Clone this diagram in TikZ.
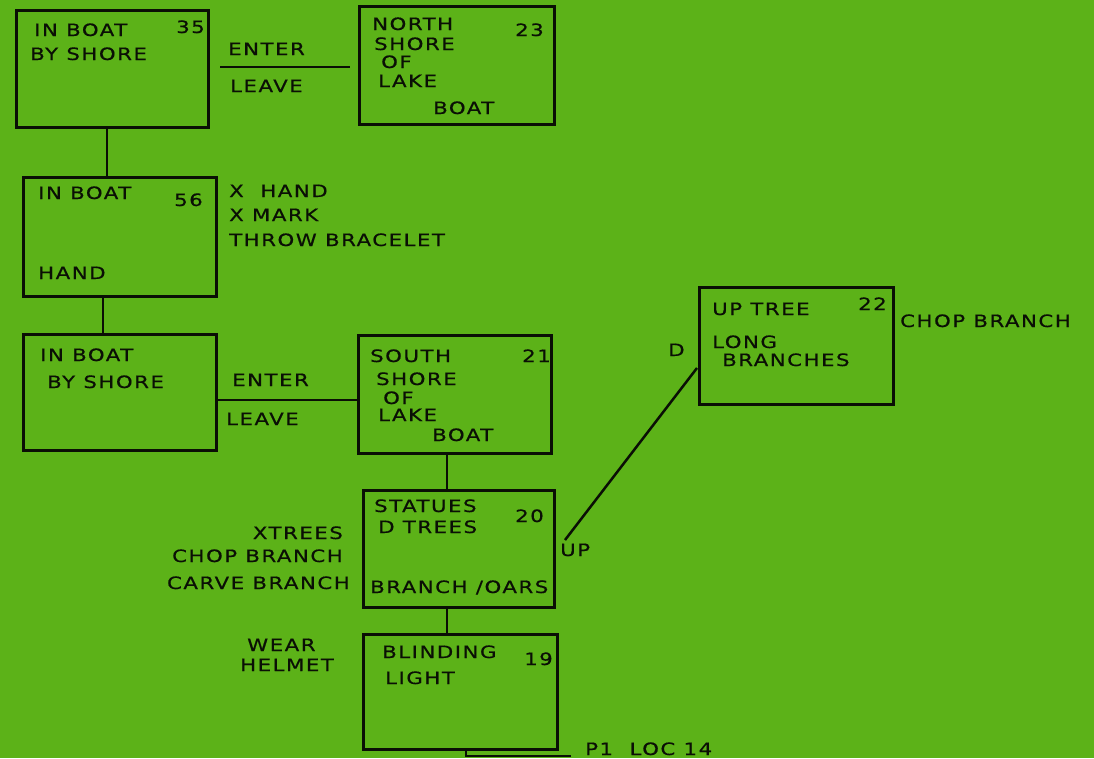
\documentclass[tikz,border=0pt]{standalone}
\usepackage{fontspec}
\newfontfamily\handfont[FakeStretch=1.25,LetterSpace=9,FakeBold=0.6]{DejaVu Sans}
\definecolor{paper}{RGB}{92,178,24}
\definecolor{ink}{RGB}{10,15,5}
\tikzset{
  room/.style={draw=ink,line width=2.8pt},
  link/.style={draw=ink,line width=2.5pt},
  lbl/.style={inner sep=0pt,anchor=base west,text=ink,font=\handfont\fontsize{17}{18}\selectfont},
  lble/.style={lbl,anchor=base east}
}
\begin{document}
\begin{tikzpicture}[x=1pt,y=-1pt]
\fill[paper] (0,0) rectangle (1094,758);
\useasboundingbox (0,0) rectangle (1094,758);
% boxes
\node[room,minimum width=192pt,minimum height=117pt,anchor=north west,inner sep=0pt] (b35) at (15,9) {};
\node[room,minimum width=195pt,minimum height=118pt,anchor=north west,inner sep=0pt] (b23) at (358,5) {};
\node[room,minimum width=193pt,minimum height=119pt,anchor=north west,inner sep=0pt] (b56) at (22,176) {};
\node[room,minimum width=193pt,minimum height=116pt,anchor=north west,inner sep=0pt] (bS) at (22,333) {};
\node[room,minimum width=193pt,minimum height=118pt,anchor=north west,inner sep=0pt] (b21) at (357,334) {};
\node[room,minimum width=191pt,minimum height=117pt,anchor=north west,inner sep=0pt] (b20) at (362,489) {};
\node[room,minimum width=194pt,minimum height=117pt,anchor=north west,inner sep=0pt] (b22) at (698,286) {};
\node[room,minimum width=194pt,minimum height=115pt,anchor=north west,inner sep=0pt] (b19) at (362,633) {};
% connectors
\coordinate (e1a) at (220,67); \coordinate (e1b) at (350,67);
\draw[link] (e1a) -- (e1b);
\coordinate (e2a) at (218,400); \coordinate (e2b) at (358,400);
\draw[link] (e2a) -- (e2b);
\draw[link] (b35.south west) ++(92,0) coordinate (v1a) -- (v1a |- b56.north);
\draw[link] (b56.south west) ++(81,0) coordinate (v2a) -- (v2a |- bS.north);
\draw[link] (b21.south west) ++(90,0) coordinate (v3a) -- (v3a |- b20.north);
\draw[link] (b20.south west) ++(85,0) coordinate (v4a) -- (v4a |- b19.north);
\coordinate (d1) at (565,540); \coordinate (d2) at (697,368);
\draw[link] (d1) -- (d2);
\coordinate (t1) at (571,756);
\draw[link] (b19.south west) ++(104,0) coordinate (v5a) -- (v5a |- t1) -- (t1);
% box 35
\node[lbl] (t35a) at (34,36) {IN BOAT};
\node[lbl] (t35b) at (30,60) {BY SHORE};
\node[lbl] (t35n) at (176,33) {35};
% box 23
\node[lbl] (t23a) at (372,30) {NORTH};
\node[lbl] (t23b) at (374,50) {SHORE};
\node[lbl] (t23c) at (381,68) {OF};
\node[lbl] (t23d) at (378,87) {LAKE};
\node[lbl] (t23e) at (433,114) {BOAT};
\node[lbl] (t23n) at (515,36) {23};
\node[lbl] (en1) at (228,55) {ENTER};
\node[lbl] (lv1) at (230,92) {LEAVE};
% box 56
\node[lbl] (t56a) at (38,199) {IN BOAT};
\node[lbl] (t56n) at (174,206) {56};
\node[lbl] (t56b) at (38,279) {HAND};
\node[lbl] (x1) at (229,197) {X\ \ HAND};
\node[lbl] (x2) at (229,221) {X\ MARK};
\node[lbl] (x3) at (229,246) {THROW BRACELET};
% lower in boat
\node[lbl] (tSa) at (40,361) {IN BOAT};
\node[lbl] (tSb) at (47,388) {BY SHORE};
\node[lbl] (en2) at (232,386) {ENTER};
\node[lbl] (lv2) at (226,425) {LEAVE};
% box 21
\node[lbl] (t21a) at (370,362) {SOUTH};
\node[lbl] (t21b) at (376,385) {SHORE};
\node[lbl] (t21c) at (383,404) {OF};
\node[lbl] (t21d) at (378,421) {LAKE};
\node[lbl] (t21e) at (432,441) {BOAT};
\node[lbl] (t21n) at (522,362) {21};
% box 20
\node[lbl] (t20a) at (374,512) {STATUES};
\node[lbl] (t20b) at (378,533) {D TREES};
\node[lbl] (t20n) at (515,522) {20};
\node[lbl] (t20c) at (370,593) {BRANCH /OARS};
\node[lble] (a1) at (343,539) {XTREES};
\node[lble] (a2) at (343,562) {CHOP BRANCH};
\node[lble] (a3) at (350,589) {CARVE BRANCH};
\node[lbl] (up) at (560,556) {UP};
\node[lbl] (dn) at (668,356) {D};
% box 22
\node[lbl] (t22a) at (712,315) {UP TREE};
\node[lbl] (t22n) at (858,310) {22};
\node[lbl] (t22b) at (712,348) {LONG};
\node[lbl] (t22c) at (722,366) {BRANCHES};
\node[lbl] (cb) at (900,327) {CHOP BRANCH};
% box 19
\node[lbl] (t19a) at (382,658) {BLINDING};
\node[lbl] (t19b) at (385,684) {LIGHT};
\node[lbl] (t19n) at (524,665) {19};
\node[lbl] (w1) at (247,651) {WEAR};
\node[lbl] (w2) at (240,671) {HELMET};
\node[lbl] (p1) at (585,755) {P1\ \ LOC\ 14};
\end{tikzpicture}
\end{document}
